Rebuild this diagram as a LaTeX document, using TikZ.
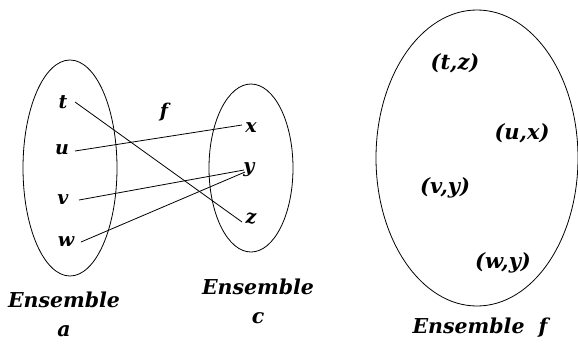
\documentclass[tikz,border=0pt]{standalone}
\usepackage{fontspec}
\setmainfont{DejaVu Serif}
\begin{document}
\begin{tikzpicture}[x=1pt,y=-1pt,
  lbl/.style={font=\fontsize{19}{22}\selectfont\bfseries\itshape, inner sep=0pt},
  pair/.style={font=\fontsize{21}{24}\selectfont\bfseries\itshape, inner sep=0pt},
  ens/.style={font=\fontsize{20.5}{23}\selectfont\bfseries\itshape, inner sep=0pt},
  set/.style={draw, line width=0.8pt},
  map/.style={draw, line width=0.8pt}]
\useasboundingbox (0,0) rectangle (578,343);
% sets
\draw[set] (70,168) ellipse [x radius=47, y radius=108];
\draw[set] (251,168) ellipse [x radius=42, y radius=84];
\draw[set] (477,158) ellipse [x radius=101, y radius=148];
% elements of a
\node[lbl] (t) at (63,102) {t};
\node[lbl] (u) at (62,150) {u};
\node[lbl] (v) at (63,200) {v};
\node[lbl] (w) at (66,242) {w};
% elements of c
\node[lbl] (x) at (251,128) {x};
\node[lbl] (y) at (249,170) {y};
\node[lbl] (z) at (251,219) {z};
\node[lbl] (f) at (164,112) {f};
% mapping
\coordinate (t1) at (75,102); \coordinate (z1) at (242,222);
\coordinate (u1) at (75,151); \coordinate (x1) at (242,125);
\coordinate (v1) at (79,200); \coordinate (y1) at (244,170);
\coordinate (w1) at (81,242); \coordinate (y2) at (245,172);
\draw[map] (t1) -- (z1);
\draw[map] (u1) -- (x1);
\draw[map] (v1) -- (y1);
\draw[map] (w1) -- (y2);
% labels
\node[ens] (ea) at (64,300) {Ensemble};
\node[ens] (a) at (64,331) {a};
\node[ens] (ec) at (258,287) {Ensemble};
\node[ens] (c) at (258,318) {c};
\node[ens] (ef) at (480,328) {Ensemble\hspace{14pt}f};
% pairs
\node[pair] (tz) at (455,63) {(t,z)};
\node[pair] (ux) at (522,133) {(u,x)};
\node[pair] (vy) at (445,188) {(v,y)};
\node[pair] (wy) at (503,263) {(w,y)};
\end{tikzpicture}
\end{document}
